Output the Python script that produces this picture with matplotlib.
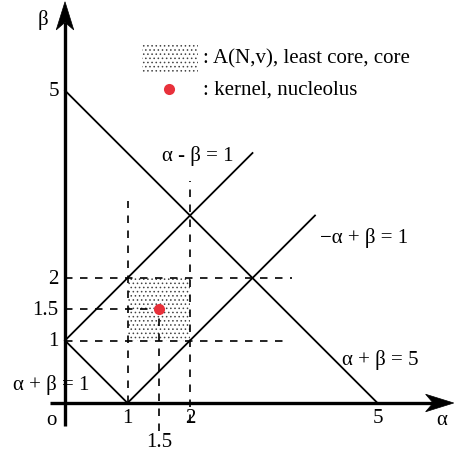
import matplotlib
matplotlib.use("Agg")
import matplotlib.pyplot as plt
from matplotlib.patches import Rectangle, Polygon

plt.rcParams['font.family'] = ['Liberation Serif', 'DejaVu Serif']
plt.rcParams['hatch.color'] = '#444444'
plt.rcParams['hatch.linewidth'] = 0.6

# ---- data ----
line_labels = ['α + β = 5', 'α - β = 1', '−α + β = 1', 'α + β = 1']
line_x0 = [0, 0, 1, 0]
line_y0 = [5, 1, 0, 1]
line_x1 = [5, 3, 4, 1]
line_y1 = [0, 4, 3, 0]
label_x = [4.43, 1.55, 4.08, -0.83]
label_y = [0.70, 3.97, 2.66, 0.30]

vdash_x = [1, 2, 1.5]
vdash_y0 = [0, -0.30, -0.45]
vdash_y1 = [3.23, 3.55, 1.5]
hdash_y = [2, 1, 1.5]
hdash_x0 = [0, 0, 0]
hdash_x1 = [3.63, 3.55, 1.5]

core_x = [1, 2]
core_y = [1, 2]
nucleolus = (1.5, 1.5)

xtick_vals = [1, 2, 5]
xtick_labels = ['1', '2', '5']
ytick_vals = [1, 1.5, 2, 5]
ytick_labels = ['1', '1.5', '2', '5']
legend_texts = [': A(N,v), least core, core', ': kernel, nucleolus']

RED = '#e8313b'
FS = 15
HATCH_EC = '#444444'

fig = plt.figure(figsize=(4.55, 4.56), dpi=100)
ax = fig.add_axes([0, 0, 1, 1])
ax.set_xlim(-1.04, 6.24)
ax.set_ylim(-0.832, 6.464)
ax.axis('off')

# shaded core
core = Rectangle((core_x[0], core_y[0]), core_x[1] - core_x[0], core_y[1] - core_y[0],
                 facecolor='white', edgecolor=HATCH_EC, hatch='....', lw=0, zorder=1)
ax.add_patch(core)

# dashed guides
for x, y0, y1 in zip(vdash_x, vdash_y0, vdash_y1):
    ax.plot([x, x], [y0, y1], color='black', lw=1.2, dashes=(4.5, 4.5), zorder=2)
for y, x0, x1 in zip(hdash_y, hdash_x0, hdash_x1):
    ax.plot([x0, x1], [y, y], color='black', lw=1.2, dashes=(4.5, 4.5), zorder=2)

# solid lines
for x0, y0, x1, y1 in zip(line_x0, line_y0, line_x1, line_y1):
    ax.plot([x0, x1], [y0, y1], color='black', lw=1.3, zorder=3)
for t, x, y in zip(line_labels, label_x, label_y):
    ax.text(x, y, t, fontsize=FS, ha='left', va='center', zorder=4)

# nucleolus
ax.plot([nucleolus[0]], [nucleolus[1]], 'o', color=RED, ms=8, mec='none', zorder=5)

# axes with arrows
ax.plot([-0.24, 6.0], [0, 0], color='black', lw=2.4, zorder=4, solid_capstyle='butt')
ax.plot([0, 0], [-0.36, 6.1], color='black', lw=2.4, zorder=4, solid_capstyle='butt')

def arrowhead(tip, direction, length=0.45, width=0.14, notch=0.12):
    tx, ty = tip
    dx, dy = direction
    px, py = -dy, dx
    bx, by = tx - dx * length, ty - dy * length
    nx, ny = tx - dx * (length - notch), ty - dy * (length - notch)
    pts = [(tx, ty), (bx + px * width, by + py * width), (nx, ny),
           (bx - px * width, by - py * width)]
    ax.add_patch(Polygon(pts, closed=True, facecolor='black', edgecolor='black', lw=0.5, zorder=5))

arrowhead((6.22, 0), (1, 0))
arrowhead((0, 6.42), (0, 1))

ax.text(6.02, -0.27, 'α', fontsize=FS, ha='center', va='center')
ax.text(-0.35, 6.15, 'β', fontsize=FS, ha='center', va='center')
ax.text(-0.21, -0.27, 'o', fontsize=FS, ha='center', va='center')

for v, t in zip(xtick_vals, xtick_labels):
    ax.text(v, -0.23, t, fontsize=FS, ha='center', va='center')
ax.text(1.5, -0.62, '1.5', fontsize=FS, ha='center', va='center')
for v, t in zip(ytick_vals, ytick_labels):
    ax.text(-0.1, v, t, fontsize=FS, ha='right', va='center')

# legend
leg_rect = Rectangle((1.23, 5.30), 0.90, 0.46, facecolor='white', edgecolor=HATCH_EC,
                     hatch='....', lw=0)
ax.add_patch(leg_rect)
ax.text(2.21, 5.52, legend_texts[0], fontsize=FS, ha='left', va='center')
ax.plot([1.66], [5.02], 'o', color=RED, ms=8, mec='none')
ax.text(2.21, 5.03, legend_texts[1], fontsize=FS, ha='left', va='center')

fig.savefig('out.png', dpi=100)
